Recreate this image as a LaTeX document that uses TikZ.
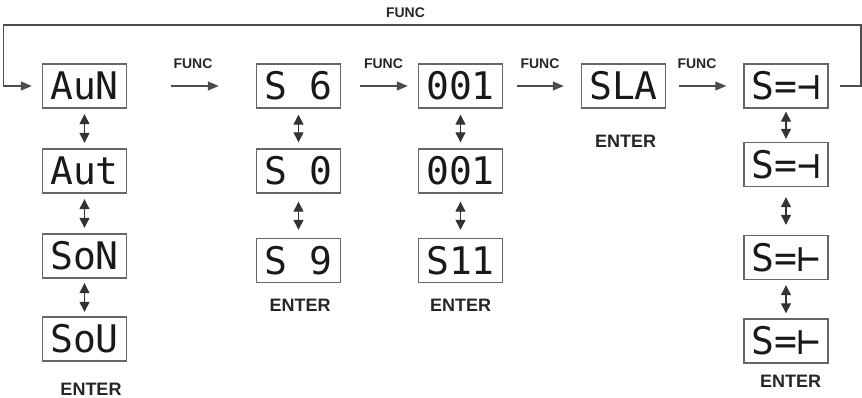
\documentclass[tikz,border=0pt]{standalone}
\usepackage{fontspec}
\setmainfont{Liberation Sans}
\newfontfamily\segfont{DejaVu Sans Mono}
\usetikzlibrary{arrows.meta}
\begin{document}
\begin{tikzpicture}[x=1pt,y=-1pt,
  disp/.style={draw=black!60, line width=1.4pt, minimum width=84pt, minimum height=44pt,
    inner sep=0pt, text=black!90, font=\segfont\fontsize{38}{38}\selectfont},
  lbl/.style={text=black!85, inner sep=0pt, font=\bfseries\fontsize{18}{18}\selectfont},
  flbl/.style={text=black!85, inner sep=0pt, font=\bfseries\fontsize{14}{14}\selectfont},
  arr/.style={line width=1.2pt, draw=black!70, -{Triangle[length=11pt,width=9pt]}},
  dbl/.style={line width=1.3pt, draw=black!80, {Triangle[length=10pt,width=10pt]}-{Triangle[length=10pt,width=10pt]}}
]
\useasboundingbox (0,0) rectangle (862,398);
% column 1
\node[disp] (a1) at (84.5,86) {AuN};
\node[disp] (a2) at (84.5,171) {Aut};
\node[disp] (a3) at (84.5,256) {SoN};
\node[disp] (a4) at (84.5,339) {SoU};
\node[lbl] (ea) at (91,389) {ENTER};
% column 2
\node[disp] (b1) at (298.5,86) {S 6};
\node[disp] (b2) at (298.5,171) {S 0};
\node[disp] (b3) at (298.5,260.5) {S 9};
\node[lbl] (eb) at (300,305) {ENTER};
% column 3
\node[disp] (c1) at (460.5,86) {001};
\node[disp] (c2) at (460.5,171) {001};
\node[disp] (c3) at (460.5,260.5) {S11};
\node[lbl] (ec) at (460.5,305) {ENTER};
% SLA
\node[disp] (d1) at (623.5,86) {SLA};
\node[lbl] (ed) at (625.5,141.5) {ENTER};
% column 5
\node[disp] (e1) at (786,86) {S=⊣};
\node[disp] (e2) at (786,164.5) {S=⊣};
\node[disp] (e3) at (786,257.5) {S=⊢};
\node[disp] (e4) at (786,341) {S=⊢};
\node[lbl] (ee) at (790.5,381.5) {ENTER};
% FUNC labels
\node[flbl] (f0) at (405.5,13) {FUNC};
\node[flbl] (f1) at (193,64) {FUNC};
\node[flbl] (f2) at (383.5,64) {FUNC};
\node[flbl] (f3) at (540,64) {FUNC};
\node[flbl] (f4) at (697,64) {FUNC};
% FUNC arrows
\draw[arr, shorten <=44pt, shorten >=37pt] (a1.east) -- (b1.west);
\draw[arr, shorten <=19pt, shorten >=10pt] (b1.east) -- (c1.west);
\draw[arr, shorten <=14pt, shorten >=17pt] (c1.east) -- (d1.west);
\draw[arr, shorten <=13pt, shorten >=17pt] (d1.east) -- (e1.west);
% loop back
\coordinate (tr) at (861,25);
\coordinate (tl) at (3.5,25);
\draw[arr, shorten <=11pt, shorten >=10pt] (e1.east) -- (e1.east -| tr) -- (tr) -- (tl) -- (tl |- a1.west) -- (a1.west);
% up/down arrows
\draw[dbl, shorten <=5.5pt, shorten >=5.5pt] (a1.south) -- (a2.north);
\draw[dbl, shorten <=5.5pt, shorten >=5.5pt] (a2.south) -- (a3.north);
\draw[dbl, shorten <=4.5pt, shorten >=4.5pt] (a3.south) -- (a4.north);
\draw[dbl, shorten <=6pt, shorten >=6pt] (b1.south) -- (b2.north);
\draw[dbl, shorten <=8pt, shorten >=8pt] (b2.south) -- (b3.north);
\draw[dbl, shorten <=6pt, shorten >=6pt] (c1.south) -- (c2.north);
\draw[dbl, shorten <=8pt, shorten >=8pt] (c2.south) -- (c3.north);
\draw[dbl, shorten <=3pt, shorten >=3pt] (e1.south) -- (e2.north);
\draw[dbl, shorten <=10pt, shorten >=10pt] (e2.south) -- (e3.north);
\draw[dbl, shorten <=5pt, shorten >=5pt] (e3.south) -- (e4.north);
\end{tikzpicture}
\end{document}
